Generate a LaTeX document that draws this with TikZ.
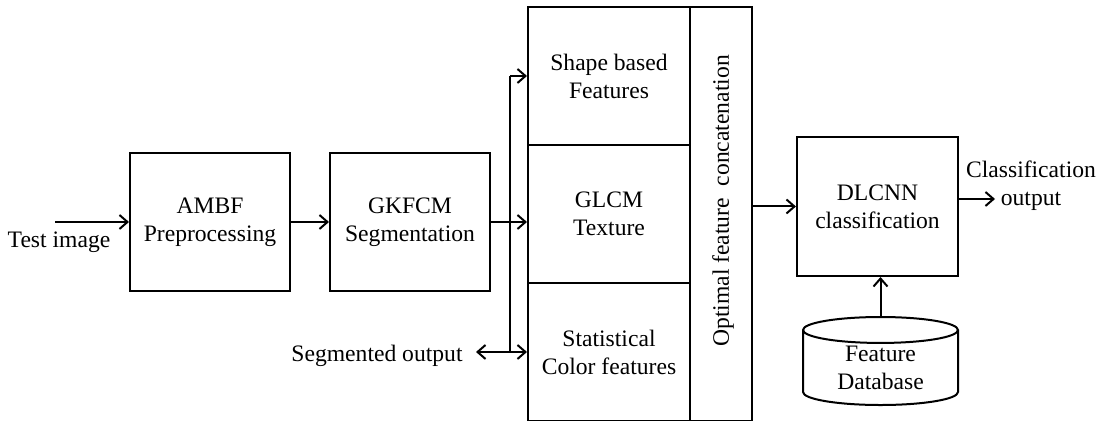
\documentclass[tikz,border=0pt]{standalone}
\usepackage{fontspec}
\setmainfont{Liberation Serif}
\usetikzlibrary{shapes.geometric,arrows.meta}
\tikzset{block/.style={draw, line width=1pt, inner sep=0mm, align=center},
         flow/.style={line width=1pt, -{Straight Barb[length=4pt, width=7pt]}},
         txt/.style={draw=none, fill=none, inner sep=0mm, align=center}}

\begin{document}
\begin{tikzpicture}[x=0.5pt, y=-0.5pt, font=\fontsize{11.8}{14}\selectfont]
    \useasboundingbox (0,0) rectangle (1099,421);

    \node (ambf) at (210,222) [block, minimum width=80pt, minimum height=69pt] {AMBF\\Preprocessing};
    \node (gkfcm) at (410,222) [block, minimum width=80pt, minimum height=69pt] {GKFCM\\Segmentation};

    \node (shape) at (609,76) [block, minimum width=81pt, minimum height=69pt] {Shape based\\Features};
    \node (glcm) at (609,214) [block, minimum width=81pt, minimum height=69pt] {GLCM\\Texture};
    \node (stat) at (609,352) [block, minimum width=81pt, minimum height=69pt] {Statistical\\Color features};
    \node (concat) at (721,214) [block, minimum width=31pt, minimum height=207pt] {};
    \node (concattxt) at (723,201) [txt, rotate=90] {Optimal feature~~concatenation};

    \node (dlcnn) at (877.5,206.5) [block, minimum width=80.5pt, minimum height=69.5pt] {DLCNN\\classification};
    \node (db) at (880.5,368) [block, cylinder, shape border rotate=90, aspect=0.3,
        minimum width=77.5pt, minimum height=44pt] {Feature\\Database};

    \node (test) at (59,242) [txt] {Test image};
    \node (segtxt) at (377,356) [txt] {Segmented output};
    \node (classtxt) at (1031,186) [txt] {Classification\\output};

    \coordinate (tin) at (55,222);
    \coordinate (sp1) at (510,76);
    \coordinate (sp2) at (510,352);
    \coordinate (seg) at (476,352);
    \coordinate (cout) at (995,199);

    \draw (tin) edge[flow] (ambf);
    \draw (ambf) edge[flow] (gkfcm);
    \draw (gkfcm.east) edge[flow] (gkfcm.east -| glcm.west);
    \draw[line width=1pt] (sp1) -- (sp2);
    \draw (sp1) edge[flow] (shape.west);
    \draw (sp2) edge[flow] (stat.west);
    \draw (sp2) edge[flow] (seg);
    \draw (concat.east |- dlcnn.west) edge[flow] (dlcnn.west);
    \draw (dlcnn.east |- cout) edge[flow] (cout);
    \draw (db.north) edge[flow] (db.north |- dlcnn.south);
\end{tikzpicture}
\end{document}
